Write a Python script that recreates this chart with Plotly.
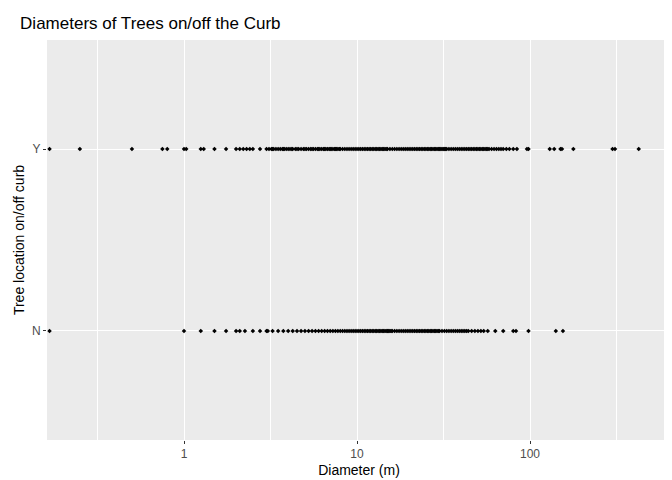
import plotly.graph_objects as go

# diameters (log scale), one list per curb group
diam_y = [0.167, 0.25, 0.5, 0.75, 0.8, 1, 1.03, 1.25, 1.3, 1.5, 1.75, 2, 2.1, 2.2, 2.3, 2.4, 2.5, 2.75,
          3, 3.1, 3.2, 3.25, 3.3, 3.4, 3.5, 3.6, 3.7, 3.75, 3.8, 3.9, 4, 4.1, 4.2, 4.25, 4.4, 4.5, 4.6,
          4.75, 4.9, 5, 5.1, 5.25, 5.4, 5.5, 5.6, 5.75, 5.9, 6, 6.1, 6.25, 6.4, 6.5, 6.6, 6.75, 6.9,
          7, 7.1, 7.25, 7.4, 7.5, 7.6, 7.75, 7.9, 8, 8.25, 8.5, 8.75, 9, 9.25, 9.5, 9.75, 10, 10.25,
          10.5, 10.75, 11, 11.25, 11.5, 11.75, 12, 12.25, 12.5, 12.75, 13, 13.25, 13.5, 13.75, 14,
          14.25, 14.5, 14.75, 15, 15.5, 16, 16.5, 17, 17.5, 18, 18.5, 19, 19.5, 20, 20.5, 21, 21.5,
          22, 22.5, 23, 23.5, 24, 24.5, 25, 25.5, 26, 26.5, 27, 27.5, 28, 28.5, 29, 29.5, 30, 30.5,
          31, 31.5, 32, 32.5, 33, 34, 35, 36, 37, 38, 39, 40, 41, 42, 43, 44, 45, 46, 47, 48, 49, 50,
          51, 52, 53, 54, 55, 56, 57, 58, 60, 62, 64, 66, 68, 70, 73, 76, 80, 84, 96, 98,
          130, 138, 150, 153, 178, 300, 310, 425]
diam_n = [0.167, 1, 1.25, 1.5, 1.75, 2, 2.1, 2.25, 2.5, 2.75, 3, 3.05, 3.25, 3.5, 3.75, 4, 4.25, 4.5,
          4.75, 5, 5.25, 5.5, 5.75, 6, 6.25, 6.5, 6.75, 7, 7.25, 7.5, 7.75, 8, 8.25, 8.5, 8.75, 9,
          9.25, 9.5, 9.75, 10, 10.25, 10.5, 10.75, 11, 11.25, 11.5, 11.75, 12, 12.25, 12.5, 12.75,
          13, 13.25, 13.5, 13.75, 14, 14.25, 14.5, 14.75, 15, 15.25, 15.5, 15.75, 16, 16.5, 17,
          17.5, 18, 18.5, 19, 19.5, 20, 20.5, 21, 21.5, 22, 22.5, 23, 23.5, 24, 24.5, 25, 25.5, 26,
          26.5, 27, 27.5, 28, 28.5, 29, 29.5, 30, 31, 32, 33, 34, 35, 36, 37, 38, 39, 40, 41, 42,
          43, 44, 46, 48, 50, 52, 54, 57, 63, 70, 80, 83, 98, 141, 155]

fig = go.Figure()
for label, vals in [("N", diam_n), ("Y", diam_y)]:
    fig.add_trace(go.Scatter(
        x=vals, y=[label] * len(vals), mode="markers",
        marker=dict(color="black", size=3.5, symbol="diamond"),
        showlegend=False,
    ))

fig.update_layout(
    width=672, height=480,
    margin=dict(l=39, r=9, t=32, b=48, autoexpand=False),
    paper_bgcolor="white", plot_bgcolor="#EBEBEB",
    font=dict(family="Liberation Sans, Arial", color="black"),
    title=dict(text="Diameters of Trees on/off the Curb", x=0.018, xanchor="left",
               y=0.968, yanchor="middle", font=dict(size=17)),
)
fig.update_xaxes(
    type="log", range=[-0.792, 2.815], automargin=False,
    tickvals=[1, 10, 100], ticktext=["1", "10", "100"],
    showgrid=True, gridcolor="white", gridwidth=1.1,
    minor=dict(tickvals=[0.316, 3.16, 31.6, 316], showgrid=True, gridcolor="white", gridwidth=0.5),
    ticks="outside", ticklen=3, tickcolor="#333333", tickfont=dict(size=12, color="#4D4D4D"),
    zeroline=False,
    title=dict(text="Diameter (m)", font=dict(size=14), standoff=4),
)
fig.update_yaxes(
    type="category", categoryorder="array", categoryarray=["N", "Y"], range=[-0.6, 1.6],
    automargin=False,
    showgrid=True, gridcolor="white", gridwidth=1.1,
    ticks="outside", ticklen=3, tickcolor="#333333", tickfont=dict(size=12, color="#4D4D4D"),
    zeroline=False,
    title=dict(text="Tree location on/off curb", font=dict(size=14), standoff=4),
)

fig.write_html("out.html")
